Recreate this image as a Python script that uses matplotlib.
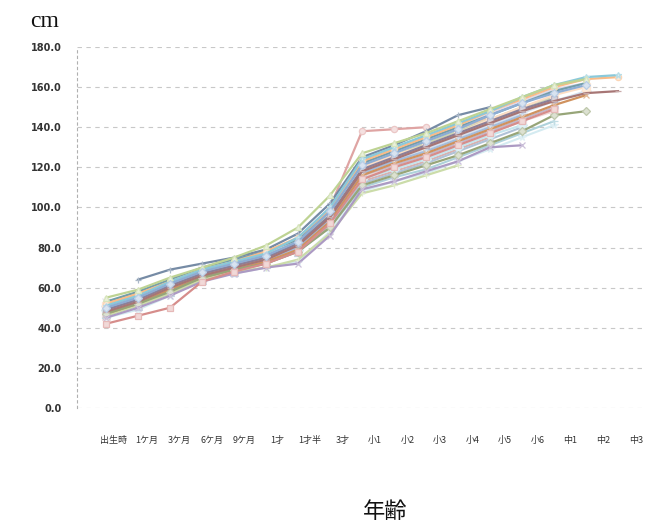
import numpy as np
import matplotlib
matplotlib.use("Agg")
import matplotlib.pyplot as plt
from matplotlib.colors import to_rgb

# Age categories along the horizontal axis
ages = ["出生時", "1ケ月", "3ケ月", "6ケ月", "9ケ月", "1才", "1才半", "3才",
        "小1", "小2", "小3", "小4", "小5", "小6", "中1", "中2", "中3"]
y_ticks = [0, 20, 40, 60, 80, 100, 120, 140, 160, 180]

_ = None
# Height records (cm) of each child, one list per child
h01 = [50, 55, 62, 68, 72, 76, 83, 98, 121, 127, 133, 139, 146, 152, 157, 161, _]
h02 = [42, 46, 50, 63, 68, 72, 78, 92, 114, 120, 125, 131, 137, 143, 149, _, _]
h03 = [55, 59, 65, 70, 75, 81, 90, 106, 127, 132, 137, 143, 149, 155, 161, 164, _]
h04 = [45, 50, 56, 63, 67, 70, 72, 86, 109, 113, 118, 123, 130, 131, _, _, _]
h05 = [51, 56, 63, 69, 73, 77, 85, 100, 124, 130, 136, 142, 148, 155, 161, 165, 166]
h06 = [52, 57, 63, 69, 73, 78, 85, 99, 123, 129, 135, 141, 148, 154, 160, 164, 165]
h07 = [_, 64, 69, 72, 75, 79, 87, 102, 125, 131, 138, 146, 150, _, _, _, _]
h08 = [48, 53, 60, 66, 70, 74, 81, 95, 118, 124, 130, 136, 142, 148, 153, 157, 158]
h09 = [47, 52, 58, 65, 69, 72, 78, 90, 111, 116, 121, 126, 132, 138, 146, 148, _]
h10 = [49, 54, 61, 67, 71, 75, 82, 96, 119, 125, 131, 137, 143, 149, 154, _, _]
h11 = [53, 58, 64, 70, 74, 78, 84, 98, 122, 128, 134, 140, 146, 152, 158, 162, _]
h12 = [47, 52, 59, 65, 69, 73, 79, 93, 116, 122, 127, 133, 139, 145, 151, 156, _]
h13 = [48, 53, 60, 66, 70, 74, 80, 94, 117, 123, 128, 134, 140, 146, _, _, _]
h14 = [49, 54, 61, 67, 71, 75, 82, 100, 138, 139, 140, _, _, _, _, _, _]
h15 = [46, 51, 57, 64, 68, 70, 74, 87, 107, 111, 116, 121, _, _, _, _, _]
h16 = [50, 55, 61, 67, 71, 75, 81, 95, 119, 125, 130, 136, 142, 148, 154, _, _]
h17 = [49, 54, 60, 66, 70, 74, 79, 92, 114, 119, 124, 130, 136, 141, _, _, _]
h18 = [51, 56, 62, 68, 72, 76, 82, 96, 120, 126, 131, 137, 144, 150, 156, 160, _]
h19 = [47, 51, 58, 64, 68, 72, 78, 91, 112, 117, 122, 128, 134, 140, _, _, _]
h20 = [46, 52, 59, 65, 69, 73, 79, 92, 113, 118, 123, 129, 135, _, _, _, _]
h21 = [50, 56, 62, 68, 72, 76, 83, 97, 121, 126, 132, 138, 144, 150, 155, _, _]
h22 = [52, 56, 62, 67, 71, 75, 81, 94, 116, 121, 126, 132, 138, 144, 150, _, _]
h23 = [48, 52, 59, 65, 69, 73, 78, 90, 110, 115, 119, 125, 131, 137, 143, _, _]
h24 = [49, 55, 62, 68, 72, 76, 83, 97, 122, 128, 133, 139, 145, _, _, _, _]
h25 = [51, 57, 63, 68, 72, 76, 82, 95, 118, 123, 129, 135, 141, 147, 153, 158, _]
h26 = [47, 53, 59, 65, 69, 73, 80, 93, 115, 120, 125, 131, 137, 143, 148, _, _]
h27 = [50, 54, 61, 67, 71, 75, 81, 94, 115, 121, 126, 133, 139, _, _, _, _]
h28 = [53, 57, 63, 69, 73, 77, 84, 98, 124, 129, 135, 141, 147, 153, 159, 162, _]
h29 = [45, 49, 56, 64, 67, 70, 73, 88, 108, 113, 117, 123, 129, 135, 141, _, _]
h30 = [48, 54, 60, 66, 70, 74, 80, 93, 116, 121, 127, 132, 138, 144, _, _, _]

children = [h01, h02, h03, h04, h05, h06, h07, h08, h09, h10,
            h11, h12, h13, h14, h15, h16, h17, h18, h19, h20,
            h21, h22, h23, h24, h25, h26, h27, h28, h29, h30]

palette = ["#4F81BD", "#C0504D", "#9BBB59", "#8064A2", "#4BACC6", "#F79646",
           "#2C4D75", "#772C2A", "#5F7530", "#4D3B62", "#276A7C", "#B65708",
           "#729ACA", "#CD7371", "#AFC97A", "#9983B5", "#6FBDD1", "#F9AB6B",
           "#3A679C", "#9F3B38", "#7E9C40", "#664F83", "#358EA6", "#E07B2A",
           "#95B3D7", "#D99694", "#C3D69B", "#B2A1C7", "#93CDDD", "#FAC090"]
markers = ["D", "s", "^", "x", "*", "o", "+", "_"]


def fade(color, amount):
    r, g, b = to_rgb(color)
    return (r + (1 - r) * amount, g + (1 - g) * amount, b + (1 - b) * amount)


fig = plt.figure(figsize=(6.46, 5.26), dpi=100)
ax = fig.add_axes([77 / 646, 118 / 526, 569 / 646, 361 / 526])

x = np.arange(len(ages))
for i, h in enumerate(children):
    y = np.array(h, dtype=float)
    base = palette[i % len(palette)]
    strong = i < 15
    line_col = fade(base, 0.35 if strong else 0.6)
    ax.plot(x, y, color=line_col, lw=1.6 if strong else 1.5,
            marker=markers[i % len(markers)], ms=4.5 if strong else 5.5,
            mfc=fade(base, 0.78), mec=fade(base, 0.6 if strong else 0.7),
            mew=0.9, zorder=3 + (30 - i) * 0.01)

ax.set_xlim(-0.906, 16.875)
ax.set_ylim(0, 180)

ax.set_yticks(y_ticks)
ax.set_yticklabels([f"{v:.1f}" for v in y_ticks], fontsize=7, fontweight="bold",
                   color="#333333", family="DejaVu Sans")
label_pos = 0.25 + 1.019 * x
ax.set_xticks(label_pos)
ax.set_xticklabels(ages, fontsize=6.5, color="#333333",
                   family=["Noto Sans CJK JP", "DejaVu Sans"])
ax.tick_params(axis="y", length=0, pad=11)
ax.tick_params(axis="x", length=0, pad=20)

for v in y_ticks:
    ax.axhline(v, color="#c8c8c8", lw=0.8, ls=(0, (4, 4)), zorder=1)

for s in ["top", "right", "bottom"]:
    ax.spines[s].set_visible(False)
ax.spines["left"].set_color("#b0b0b0")
ax.spines["left"].set_linestyle((0, (2, 3)))
ax.spines["left"].set_linewidth(0.8)

fig.text(30 / 646, 1 - 27 / 526, "cm", fontsize=17, family="Liberation Serif",
         color="#111111", ha="left", va="baseline")
fig.text(385 / 646, 1 - 511 / 526, "年齢", fontsize=16,
         family=["Noto Sans CJK JP", "DejaVu Sans"], color="#111111",
         ha="center", va="center")

fig.savefig("out.png", dpi=100)
